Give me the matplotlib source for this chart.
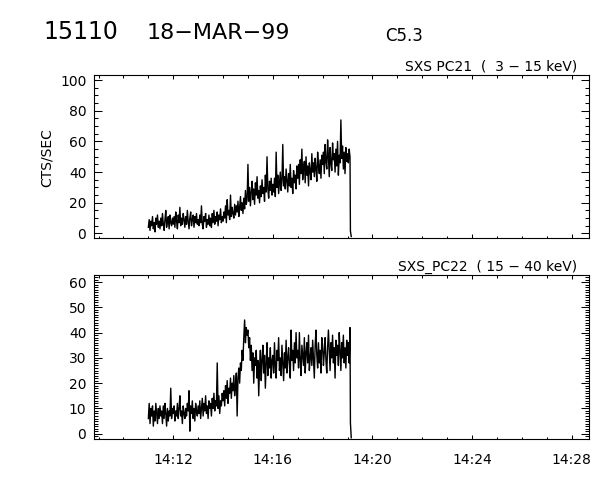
import numpy as np
import matplotlib
matplotlib.use('Agg')
import matplotlib.pyplot as plt
import matplotlib.dates as mdates
from matplotlib.ticker import MultipleLocator

# SXS count rates, one sample every 2 s starting 14:11:00,
# one row = 30 s
pc21 = [4, 9, 2, 8, 5, 11, 3, 7, 1, 10, 6, 12, 4, 8, 3,
        10, 5, 13, 6, 2, 9, 15, 4, 8, 11, 3, 12, 7, 5, 10,
        6, 11, 4, 14, 8, 3, 12, 7, 17, 5, 10, 6, 13, 9, 4,
        11, 6, 15, 8, 3, 10, 14, 5, 9, 12, 4, 11, 7, 13, 6,
        9, 5, 12, 7, 18, 6, 3, 11, 8, 13, 4, 9, 6, 12, 5,
        10, 4, 13, 7, 15, 6, 11, 8, 14, 5, 12, 9, 16, 7, 11,
        8, 14, 10, 18, 7, 22, 12, 15, 9, 25, 11, 17, 13, 10, 19,
        12, 18, 14, 21, 11, 17, 24, 15, 20, 13, 23, 16, 28, 19, 22,
        45, 21, 30, 18, 27, 34, 22, 29, 19, 33, 25, 37, 23, 28, 20,
        31, 24, 35, 26, 30, 21, 38, 27, 50, 29, 23, 34, 28, 36, 25,
        32, 27, 36, 24, 53, 30, 38, 26, 33, 40, 28, 35, 58, 31, 37,
        29, 42, 34, 27, 39, 31, 45, 30, 36, 26, 41, 33, 38, 29, 44,
        36, 45, 32, 48, 39, 55, 35, 43, 47, 33, 50, 38, 44, 31, 46,
        41, 35, 52, 40, 46, 37, 49, 42, 34, 53, 44, 39, 48, 36, 51,
        45, 53, 39, 58, 47, 42, 61, 50, 37, 56, 46, 41, 59, 48, 52,
        40, 55, 44, 60, 38, 51, 46, 74, 49, 57, 42, 53, 39, 56, 47,
        52, 46, 55, 50]
pc22 = [6, 12, 4, 10, 7, 11, 3, 9, 5, 12, 8, 4, 10, 6, 11,
        7, 9, 4, 11, 6, 12, 8, 3, 10, 5, 9, 7, 18, 6, 10,
        8, 11, 5, 9, 7, 12, 6, 10, 15, 7, 9, 4, 11, 8, 6,
        10, 7, 12, 9, 17, 1, 11, 8, 13, 6, 10, 5, 12, 9, 7,
        11, 8, 13, 6, 10, 14, 7, 12, 9, 15, 8, 11, 6, 13, 10,
        12, 7, 14, 10, 16, 9, 13, 11, 28, 10, 15, 8, 13, 11, 16,
        13, 17, 11, 19, 14, 21, 12, 18, 16, 22, 14, 20, 17, 23, 15,
        19, 24, 7, 22, 26, 20, 28, 25, 33, 29, 38, 45, 36, 42, 39,
        41, 34, 38, 29, 35, 25, 32, 20, 30, 27, 33, 22, 29, 15, 26,
        33, 21, 29, 35, 24, 31, 18, 28, 36, 23, 30, 26, 34, 22, 29,
        31, 24, 36, 27, 22, 33, 29, 38, 25, 30, 23, 35, 28, 21, 32,
        26, 37, 24, 30, 34, 27, 22, 41, 29, 33, 25, 36, 28, 40, 30,
        33, 26, 40, 29, 23, 35, 31, 27, 38, 24, 32, 36, 28, 39, 25,
        30, 34, 27, 37, 29, 22, 35, 41, 31, 26, 36, 28, 33, 24, 38,
        35, 27, 32, 38, 29, 24, 34, 41, 33, 25, 36, 30, 39, 28, 34,
        22, 37, 31, 35, 27, 40, 33, 25, 36, 30, 39, 28, 34, 26, 37,
        31, 36, 28, 42]
cadence = 2
# drop at the end of the data
tail_sec = [487, 489]
pc21_tail = [1.5, -2.0]
pc22_tail = [4.3, -1.6]

start = np.datetime64('1999-03-18T14:11:00')
secs = list(np.arange(len(pc21)) * cadence) + tail_sec
t = start + np.array(secs).astype('timedelta64[s]')

panels = [
    (pc21 + pc21_tail, 'SXS PC21  (  3 \u2212 15 keV)', (-3.3, 103.3), 20, 5),
    (pc22 + pc22_tail, 'SXS_PC22  ( 15 \u2212 40 keV)', (-2.1, 62.8), 10, 1),
]

fig = plt.figure(figsize=(6, 4.8), dpi=100)
ax1 = fig.add_axes([94/600, 1-238.5/480, 495/600, 163.5/480])
ax2 = fig.add_axes([94/600, 1-439/480, 495/600, 164/480])

for ax, (y, lab, ylim, major, minor) in zip([ax1, ax2], panels):
    ax.plot(t, y, color='black', lw=1.0)
    ax.set_xlim(np.datetime64('1999-03-18T14:08:49'), np.datetime64('1999-03-18T14:28:42'))
    ax.set_ylim(ylim)
    ax.xaxis.set_major_locator(mdates.MinuteLocator(byminute=range(0, 60, 4)))
    ax.xaxis.set_minor_locator(mdates.MinuteLocator())
    ax.xaxis.set_major_formatter(mdates.DateFormatter('%H:%M'))
    ax.yaxis.set_major_locator(MultipleLocator(major))
    ax.yaxis.set_minor_locator(MultipleLocator(minor))
    ax.tick_params(which='both', direction='in', top=True, right=True,
                   width=0.75, labelsize=10, colors='black')
    ax.tick_params(axis='x', which='major', length=2.6, pad=10)
    ax.tick_params(axis='x', which='minor', length=1.8)
    ax.tick_params(axis='y', which='major', length=5.8, pad=5.5)
    ax.tick_params(axis='y', which='minor', length=3.2)
    for s in ax.spines.values():
        s.set_linewidth(0.8)
    ax.text(0.976, 1.027, lab, transform=ax.transAxes, ha='right', va='baseline', fontsize=10)

ax2.tick_params(axis='y', which='minor', length=2.6)
ax1.tick_params(axis='x', labelbottom=False)

fig.text(46.7/600, 1-158/480, 'CTS/SEC', rotation=90, ha='center', va='center', fontsize=10)
fig.text(43/600, 1-39/480, '15110', fontsize=17, va='baseline')
fig.text(147/600, 1-39/480, '18\u2212MAR\u221299', fontsize=16, va='baseline')
fig.text(385/600, 1-41/480, 'C5.3', fontsize=12, va='baseline')

fig.savefig('out.png', dpi=100)
